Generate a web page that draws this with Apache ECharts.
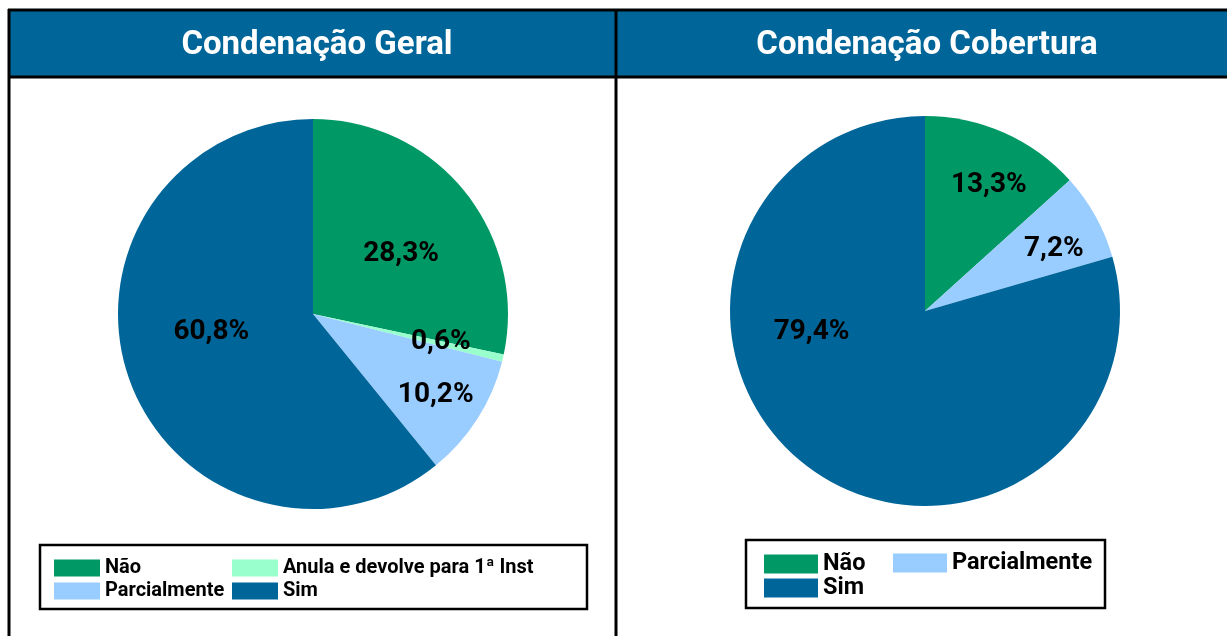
<!DOCTYPE html>
<html>
<head>
<meta charset="utf-8">
<script src="https://cdn.jsdelivr.net/npm/echarts@6/dist/echarts.min.js"></script>
<style>
  html, body { margin: 0; padding: 0; background: #fff; }
  #chart { width: 1227px; height: 636px; }
</style>
</head>
<body>
<div id="chart"></div>
<script>
// dados
const geralNames = ['Não', 'Anula e devolve para 1ª Inst', 'Parcialmente', 'Sim'];
const geralValues = [28.3, 0.6, 10.2, 60.8];
const coberturaNames = ['Não', 'Parcialmente', 'Sim'];
const coberturaValues = [13.3, 7.2, 79.4];

const colors = {
  'Não': '#009966',
  'Anula e devolve para 1ª Inst': '#99ffcc',
  'Parcialmente': '#99ccff',
  'Sim': '#006699'
};

// deslocamento dos rótulos (estilo, como no Excel)
const geralOffsets = [[10, 3], [30, 5], [38, 27], [-7, -16]];
const coberturaOffsets = [[23, -34], [41, -13], [-53, -59]];

const fmt = p => p.value.toFixed(1).replace('.', ',') + '%';
const font = 'Roboto, "Noto Sans", sans-serif';

function buildData(names, values, offsets) {
  return names.map((n, i) => ({
    name: n,
    value: values[i],
    itemStyle: { color: colors[n] },
    label: { offset: offsets[i] }
  }));
}

function pieSeries(names, values, offsets, center) {
  return {
    type: 'pie',
    radius: [0, 195],
    center: center,
    startAngle: 90,
    clockwise: true,
    avoidLabelOverlap: false,
    emphasis: { disabled: true },
    label: {
      show: true,
      position: 'inside',
      formatter: fmt,
      color: '#000',
      fontFamily: font,
      fontWeight: 'bold',
      fontSize: 28
    },
    labelLine: { show: false },
    data: buildData(names, values, offsets)
  };
}

const legendText = size => ({ color: '#000', fontFamily: font, fontWeight: 'bold', fontSize: size });

const chart = echarts.init(document.getElementById('chart'));
chart.setOption({
  animation: false,
  title: [
    {
      text: 'Condenação Geral', left: 312, top: 24, textAlign: 'center',
      textStyle: { color: '#fff', fontFamily: font, fontWeight: 'bold', fontSize: 33 }
    },
    {
      text: 'Condenação Cobertura', left: 922, top: 24, textAlign: 'center',
      textStyle: { color: '#fff', fontFamily: font, fontWeight: 'bold', fontSize: 33 }
    }
  ],
  legend: [
    {
      data: ['Não', 'Parcialmente'], orient: 'vertical', left: 54, top: 558,
      itemWidth: 46, itemHeight: 17, itemGap: 3, icon: 'rect', selectedMode: false,
      padding: 0, textStyle: legendText(20)
    },
    {
      data: ['Anula e devolve para 1ª Inst', 'Sim'], orient: 'vertical', left: 232, top: 558,
      itemWidth: 46, itemHeight: 17, itemGap: 3, icon: 'rect', selectedMode: false,
      padding: 0, textStyle: legendText(20)
    },
    {
      data: ['Não', 'Sim'], orient: 'vertical', left: 764, top: 552,
      itemWidth: 54, itemHeight: 19, itemGap: 0, icon: 'rect', selectedMode: false,
      padding: 0, textStyle: legendText(23.5)
    },
    {
      data: ['Parcialmente'], orient: 'vertical', left: 893, top: 551,
      itemWidth: 54, itemHeight: 19, icon: 'rect', selectedMode: false,
      padding: 0, textStyle: legendText(23.5)
    }
  ],
  graphic: [
    // faixa do cabeçalho
    { type: 'rect', z: -10, shape: { x: 9, y: 10, width: 1230, height: 67 }, style: { fill: '#006699' } },
    // linhas da tabela
    { type: 'line', z: 10, shape: { x1: 8, y1: 10, x2: 1240, y2: 10 }, style: { stroke: '#000', lineWidth: 3 } },
    { type: 'line', z: 10, shape: { x1: 8, y1: 77, x2: 1240, y2: 77 }, style: { stroke: '#000', lineWidth: 3 } },
    { type: 'line', z: 10, shape: { x1: 9, y1: 9, x2: 9, y2: 640 }, style: { stroke: '#000', lineWidth: 3 } },
    { type: 'line', z: 10, shape: { x1: 616, y1: 9, x2: 616, y2: 640 }, style: { stroke: '#000', lineWidth: 3 } },
    // caixas das legendas
    { type: 'rect', z: 10, shape: { x: 40, y: 545, width: 547, height: 64 }, style: { fill: 'none', stroke: '#000', lineWidth: 2.5 } },
    { type: 'rect', z: 10, shape: { x: 746, y: 540, width: 359, height: 68 }, style: { fill: 'none', stroke: '#000', lineWidth: 2.5 } }
  ],
  series: [
    pieSeries(geralNames, geralValues, geralOffsets, [313, 314]),
    pieSeries(coberturaNames, coberturaValues, coberturaOffsets, [925, 311])
  ]
});
</script>
</body>
</html>
